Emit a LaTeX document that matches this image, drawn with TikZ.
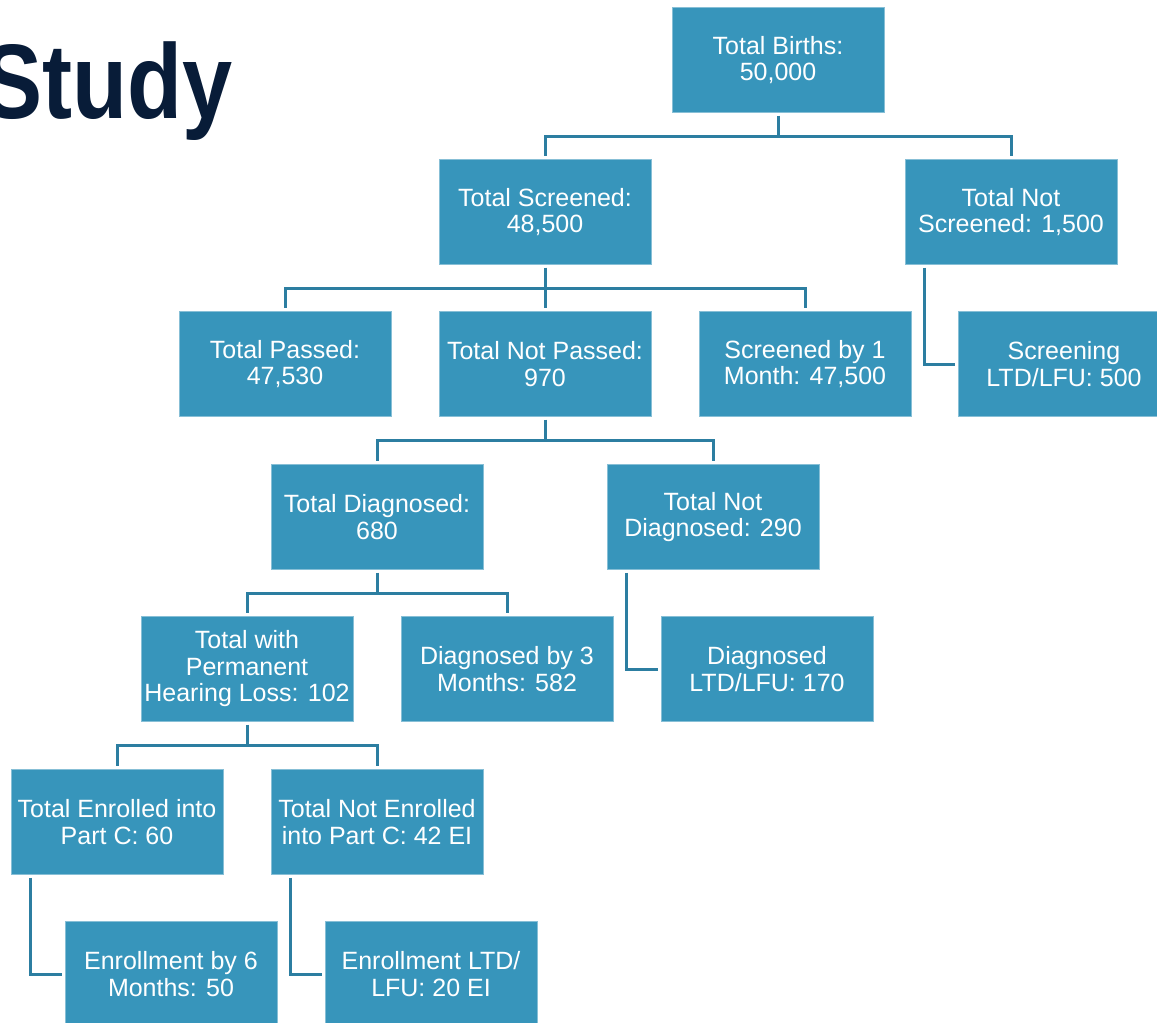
\documentclass[tikz,border=0pt]{standalone}
\usepackage{fontspec}
\setmainfont{Liberation Sans}
\definecolor{boxc}{RGB}{55,149,187}
\definecolor{linec}{RGB}{44,126,161}
\definecolor{navy}{RGB}{8,28,56}
\begin{document}
\begin{tikzpicture}[x=1pt,y=1pt,
  box/.style={fill=boxc,draw=boxc!60!white,line width=0.6pt,minimum width=212pt,minimum height=105pt,
    inner sep=0pt,align=center,text=white,font=\fontsize{25}{26.5}\selectfont},
  conn/.style={draw=linec,line width=3pt}]
\useasboundingbox (0,0) rectangle (1157,-1023);
\clip (0,0) rectangle (1157,-1023);
\fill[white] (0,0) rectangle (1157,-1023);
\node[anchor=base east,xscale=0.85,text=navy,font=\fontsize{106}{106}\selectfont\bfseries,inner sep=0pt] (title) at (233,-118) {Study};
\node[box] (births) at (778,-60) {Total Births:\\50,000};
\node[box] (scr) at (545,-212) {Total Screened:\\48,500};
\node[box] (nsc) at (1011,-212) {Total Not\\Screened: 1,500};
\node[box] (pass) at (285,-364) {Total Passed:\\47,530};
\node[box] (npass) at (545,-364) {Total Not Passed:\\970};
\node[box] (s1m) at (805,-364) {Screened by 1\\Month: 47,500};
\node[box] (sltd) at (1064,-364) {Screening\\LTD/LFU: 500};
\node[box] (diag) at (377,-517) {Total Diagnosed:\\680};
\node[box] (ndiag) at (713,-517) {Total Not\\Diagnosed: 290};
\node[box] (phl) at (247,-669) {Total with\\Permanent\\Hearing Loss: 102};
\node[box] (d3m) at (507,-669) {Diagnosed by 3\\Months: 582};
\node[box] (dltd) at (767,-669) {Diagnosed\\LTD/LFU: 170};
\node[box] (enr) at (117,-822) {Total Enrolled into\\Part C: 60};
\node[box] (nenr) at (377,-822) {Total Not Enrolled\\into Part C: 42 EI};
\node[box] (e6m) at (171,-974) {Enrollment by 6\\Months: 50};
\node[box] (eltd) at (431,-974) {Enrollment LTD/\\LFU: 20 EI};
% tree connectors
\foreach \p/\c in {births/scr,births/nsc,scr/pass,scr/npass,scr/s1m,npass/diag,npass/ndiag,diag/phl,diag/d3m,phl/enr,phl/nenr}{
  \draw[conn] ([yshift=-3pt]\p.south) -- ([yshift=-24pt]\p.south) -| ([yshift=3pt]\c.north);
}
% side connectors
\foreach \p/\c in {nsc/sltd,ndiag/dltd,enr/e6m,nenr/eltd}{
  \draw[conn] ([xshift=20pt,yshift=-3pt]\p.south west) |- ([xshift=-3pt]\c.west);
}
\end{tikzpicture}
\end{document}
